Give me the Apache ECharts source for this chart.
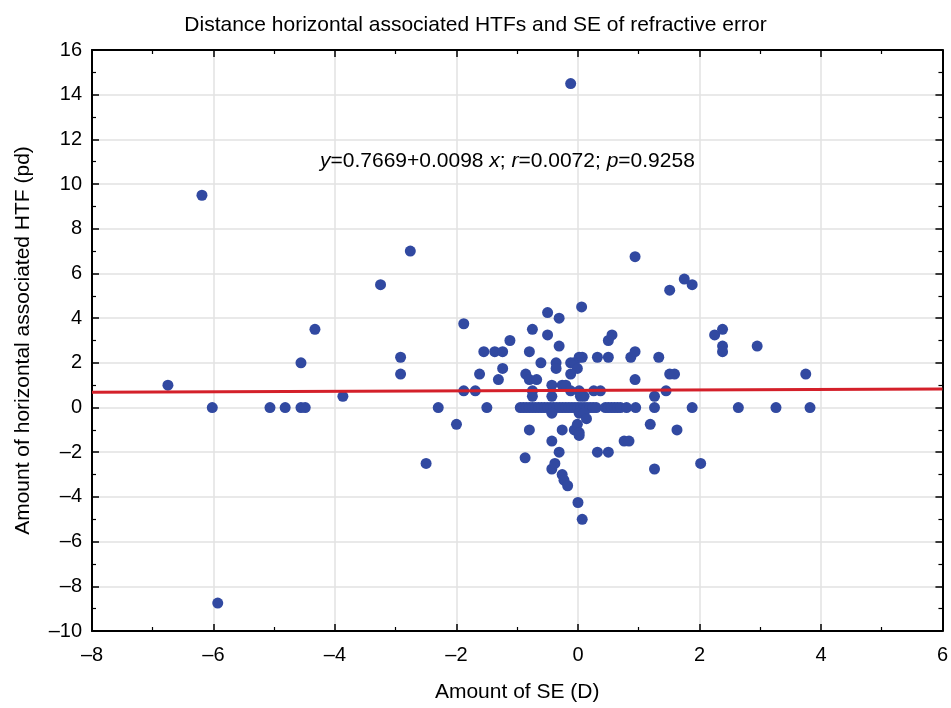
<!DOCTYPE html>
<html>
<head>
<meta charset="utf-8">
<script src="https://cdn.jsdelivr.net/npm/echarts@6/dist/echarts.min.js"></script>
<style>html,body{margin:0;padding:0;background:#fff}#c{width:951px;height:708px}</style>
</head>
<body>
<div id="c"></div>
<script>
const titleText = "Distance horizontal associated HTFs and SE of refractive error";
const xName = "Amount of SE (D)";
const yName = "Amount of horizontal associated HTF (pd)";
const xTicks = [-8, -6, -4, -2, 0, 2, 4, 6];
const yTicks = [-10, -8, -6, -4, -2, 0, 2, 4, 6, 8, 10, 12, 14, 16];
const fitIntercept = 0.7669;
const fitSlope = 0.0098;

const seX = [
  -6.75, -6.19, -6.02, -5.93, -5.07, -4.82, -4.56, -4.49, -4.56, -4.33,
  -3.87, -3.25, -2.92, -2.92, -2.76, -2.5, -2.3, -2.0, -1.88, -1.88,
  -1.69, -1.62, -1.5, -1.55, -1.37, -1.24, -1.24, -1.31, -1.12, -0.8,
  -0.75, -0.5, -0.31, -0.12, 0.06, -0.5, -0.31, -0.61, -0.86, -0.8,
  -0.68, -0.75, -0.75, -0.43, -0.43, -0.36, -0.36, -0.26, -0.2, -0.12,
  -0.12, -0.06, 0.02, 0.07, -0.01, -0.12, 0.02, 0.1, 0.26, 0.04,
  0.37, 0.32, 0.5, 0.5, 0.56, 0.87, 0.94, 0.94, 0.94, 1.33,
  1.26, 1.45, 1.51, 1.59, 1.51, 1.75, 1.88, 2.25, 2.38, 2.38,
  2.38, 2.95, 3.75,
  -0.95, -0.9, -0.85, -0.8, -0.75, -0.7, -0.65, -0.6, -0.55, -0.5,
  -0.45, -0.4, -0.35, -0.3, -0.25, -0.2, -0.15, -0.1, -0.05, 0.0,
  0.05, 0.1, 0.15, 0.2, 0.25, 0.3, 0.45, 0.5, 0.55, 0.6,
  0.65, 0.7, 0.8, 0.95, 1.26, 1.88, 2.64, 3.26, 3.82,
  -0.43, 0.02, 0.1, 0.14, -0.8, -0.26, -0.06, -0.01, 0.02, 0.02,
  -0.43, -0.31, -0.87, -0.43, -0.38, -0.26, -0.23, -0.17, 0.0, 0.07,
  0.32, 0.5, 0.76, 0.84, 1.19, 1.63, 1.26, 2.02
];
const htfY = [
  1.0, 9.5, 0, -8.75, 0, 0, 0, 0, 2.0, 3.5,
  0.5, 5.5, 2.25, 1.5, 7.0, -2.5, 0, -0.75, 3.75, 0.75,
  0.75, 1.5, 0, 2.5, 2.5, 2.5, 1.75, 1.25, 3.0, 2.5,
  3.5, 4.25, 4.0, 14.5, 4.5, 3.25, 2.75, 2.0, 1.5, 1.25,
  1.25, 0.75, 0.5, 1.0, 0.5, 2.0, 1.75, 1.0, 1.0, 0.75,
  2.0, 2.0, 2.25, 2.25, 1.75, 1.5, 0.75, 0.5, 0.75, 0.5,
  0.75, 2.25, 2.25, 3.0, 3.25, 2.25, 2.5, 1.25, 6.75, 2.25,
  0.5, 0.75, 1.5, 1.5, 5.25, 5.75, 5.5, 3.25, 3.5, 2.75,
  2.5, 2.75, 1.5,
  0, 0, 0, 0, 0, 0, 0, 0, 0, 0,
  0, 0, 0, 0, 0, 0, 0, 0, 0, 0,
  0, 0, 0, 0, 0, 0, 0, 0, 0, 0,
  0, 0, 0, 0, 0, 0, 0, 0, 0,
  -0.25, -0.25, -0.25, -0.5, -1.0, -1.0, -1.0, -0.75, -1.12, -1.25,
  -1.5, -2.0, -2.25, -2.75, -2.5, -3.0, -3.25, -3.5, -4.25, -5.0,
  -2.0, -2.0, -1.5, -1.5, -0.75, -1.0, -2.75, -2.5
];

const points = seX.map((x, i) => [x, htfY[i]]);
const xMin = xTicks[0], xMax = xTicks[xTicks.length - 1];
const yMin = yTicks[0], yMax = yTicks[yTicks.length - 1];
const fitLine = [[xMin, fitIntercept + fitSlope * xMin], [xMax, fitIntercept + fitSlope * xMax]];

const FONT = "Liberation Sans, Arial, sans-serif";
const fmt = v => String(v).replace('-', '\u2013');
const axisLineStyle = { color: '#000', width: 2 };

function baseAxis(extra) {
  return Object.assign({
    type: 'value',
    axisLine: { show: true, onZero: false, lineStyle: axisLineStyle },
    axisTick: { show: true, inside: true, length: 7, lineStyle: { color: '#000', width: 1.5 } },
    minorTick: { show: true, splitNumber: 2, length: 4, lineStyle: { color: '#000', width: 1.2 } },
    splitLine: { show: false },
  }, extra);
}

const chart = echarts.init(document.getElementById('c'), null, { renderer: 'canvas' });
chart.setOption({
  backgroundColor: '#fff',
  animation: false,
  title: {
    text: titleText, left: 'center', top: 10,
    textStyle: { fontFamily: FONT, fontSize: 21, fontWeight: 'normal', color: '#000' }
  },
  grid: { left: 92, right: 4, top: 50, bottom: 76 },
  xAxis: [
    baseAxis({
      min: xMin, max: xMax, interval: 2, position: 'bottom',
      name: xName, nameLocation: 'middle', nameGap: 51,
      nameTextStyle: { fontFamily: FONT, fontSize: 21, color: '#000' },
      axisLabel: { fontFamily: FONT, fontSize: 20, color: '#000', margin: 14, formatter: fmt },
      splitLine: { show: true, lineStyle: { color: '#e2e2e2', width: 1.5 } }
    }),
    baseAxis({ min: xMin, max: xMax, interval: 2, position: 'top', axisLabel: { show: false } })
  ],
  yAxis: [
    baseAxis({
      min: yMin, max: yMax, interval: 2, position: 'left',
      name: yName, nameLocation: 'middle', nameGap: 58,
      nameTextStyle: { fontFamily: FONT, fontSize: 21, color: '#000' },
      axisLabel: { fontFamily: FONT, fontSize: 20, color: '#000', margin: 10, formatter: fmt },
      splitLine: { show: true, lineStyle: { color: '#e2e2e2', width: 1.5 } }
    }),
    baseAxis({ min: yMin, max: yMax, interval: 2, position: 'right', axisLabel: { show: false } })
  ],
  series: [
    {
      type: 'scatter', xAxisIndex: 0, yAxisIndex: 0, data: points,
      symbol: 'circle', symbolSize: 11,
      itemStyle: { color: '#3149a1', opacity: 1 }
    },
    {
      type: 'line', xAxisIndex: 0, yAxisIndex: 0, data: fitLine,
      symbol: 'none', lineStyle: { color: '#d4202a', width: 3 }, z: 3
    }
  ],
  graphic: [{
    type: 'text', left: 320, top: 151, z: 100,
    style: {
      text: '{i|y}{n|=0.7669+0.0098 }{i|x}{n|; }{i|r}{n|=0.0072; }{i|p}{n|=0.9258}',
      rich: {
        i: { fontFamily: FONT, fontSize: 21, fontStyle: 'italic', fill: '#000' },
        n: { fontFamily: FONT, fontSize: 21, fill: '#000' }
      }
    }
  }]
});
</script>
</body>
</html>
